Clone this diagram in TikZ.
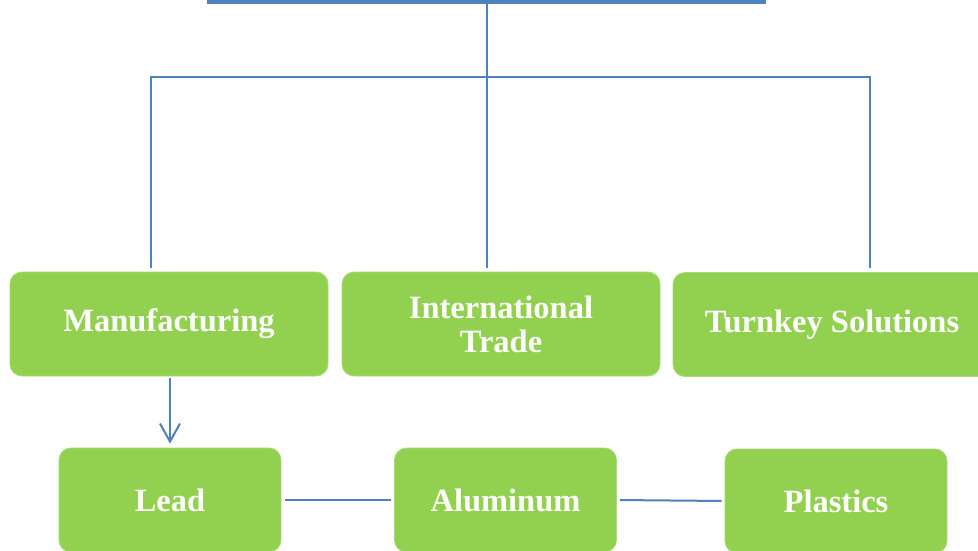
\documentclass[tikz,border=0pt]{standalone}
\usepackage{fontspec}
\setmainfont{Liberation Serif}
\usetikzlibrary{arrows.meta}
\definecolor{lineblue}{HTML}{4F81BD}
\definecolor{boxgreen}{HTML}{92D050}
\definecolor{boxedge}{HTML}{A9DA74}
\begin{document}
\begin{tikzpicture}[x=1pt,y=-1pt,
  box/.style={rounded corners=12pt, fill=boxgreen, draw=boxedge, line width=0.8pt,
    minimum width=318pt, minimum height=104pt, inner sep=0pt,
    text=white, font=\fontsize{32.5}{34}\selectfont\bfseries, align=center},
  sbox/.style={box, minimum width=222pt},
  conn/.style={draw=lineblue, line width=2pt},
  arr/.style={conn, -{Straight Barb[length=18pt,width=20pt,line width=2pt]}}]
\clip (0,0) rectangle (978,551);
\fill[white] (0,0) rectangle (978,551);
% top bar
\node[fill=lineblue, minimum width=559pt, minimum height=8pt, inner sep=0pt, anchor=center] (top) at (486.5,0) {};
% top row boxes
\node[box] (man) at (169,324) {Manufacturing};
\node[box] (intl) at (501,324) {International\\Trade};
\node[box] (turn) at (832,324.5) {Turnkey Solutions};
% bottom row
\node[sbox] (lead) at (170,500) {Lead};
\node[sbox] (alu) at (505.5,500) {Aluminum};
\node[sbox] (plas) at (836,501) {Plastics};
% tree connectors
\coordinate (t) at (487,4);
\coordinate (j1) at (151,77);
\coordinate (j3) at (870,77);
\coordinate (e1) at (151,268);
\coordinate (e2) at (487,268);
\coordinate (e3) at (870,268);
\draw[conn] (t) -- (e2);
\draw[conn] (e1) -- (j1) -- (j3) -- (e3);
% arrow
\draw[arr] ([yshift=-2pt]lead.north |- man.south) -- ([yshift=4pt]lead.north);
% horizontal links
\draw[conn, shorten <=4pt, shorten >=3pt] (lead.east) -- (alu.west);
\draw[conn, shorten <=3pt, shorten >=3pt] (alu.east) -- (plas.west);
\end{tikzpicture}
\end{document}
